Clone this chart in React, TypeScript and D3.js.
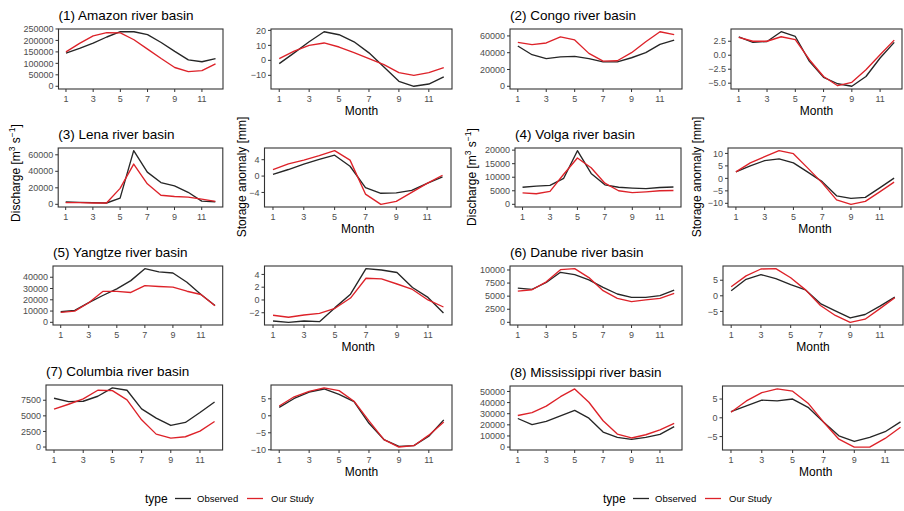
import React from "react";
import * as d3 from "d3";

const months = [1, 2, 3, 4, 5, 6, 7, 8, 9, 10, 11, 12];
const monthTicks = [1, 3, 5, 7, 9, 11];

const basinNames = [
  "(1) Amazon river basin",
  "(2) Congo river basin",
  "(3) Lena river basin",
  "(4) Volga river basin",
  "(5) Yangtze river basin",
  "(6) Danube river basin",
  "(7) Columbia river basin",
  "(8) Mississippi river basin",
];
const legendTitle = "type";
const legendLabels = ["Observed", "Our Study"];
const xAxisTitle = "Month";

// Discharge [m3 s-1]
const amazonQObs = [145000, 165000, 188000, 215000, 238000, 238000, 225000, 191000, 152000, 115000, 107000, 121000];
const amazonQSim = [150000, 187000, 220000, 234000, 233000, 203000, 162000, 121000, 82000, 64000, 68000, 98000];
const congoQObs = [48000, 37600, 33000, 35000, 35600, 33000, 29000, 29000, 34000, 40000, 50000, 55000];
const congoQSim = [52400, 49600, 51600, 58800, 55200, 39200, 30000, 30400, 40000, 53000, 65000, 61600];
const lenaQObs = [2800, 2400, 2000, 1600, 7500, 65000, 39000, 26400, 22400, 14600, 3900, 3100];
const lenaQSim = [2000, 2000, 1600, 1600, 19300, 48800, 24800, 11000, 9500, 8700, 6300, 3500];
const volgaQObs = [6300, 6700, 7000, 9600, 19800, 11400, 7200, 6300, 6000, 5800, 6200, 6400];
const volgaQSim = [4200, 3900, 4800, 11100, 17100, 13500, 7800, 5000, 4300, 4600, 5000, 5100];
const yangtzeQObs = [9400, 10600, 17400, 23800, 29700, 37000, 47600, 44700, 43800, 35600, 24700, 15000];
const yangtzeQSim = [8800, 10000, 17400, 27400, 27400, 26500, 32600, 31800, 31200, 27600, 24700, 14700];
const danubeQObs = [6540, 6290, 7610, 9560, 9120, 8110, 6670, 5410, 4780, 4780, 5100, 6160];
const danubeQSim = [5970, 6230, 7740, 10060, 10250, 8550, 6040, 4590, 3960, 4280, 4590, 5530];
const columbiaQObs = [7820, 7290, 7340, 8140, 9470, 9100, 6120, 4630, 3460, 3940, 5530, 7230];
const columbiaQSim = [6060, 6860, 7710, 9100, 9040, 7550, 4360, 2070, 1440, 1650, 2550, 4100];
const mississippiQObs = [25700, 20200, 23100, 28100, 33000, 26000, 13500, 8800, 7000, 8800, 11400, 18400];
const mississippiQSim = [28400, 31000, 36800, 45300, 52300, 40300, 23700, 11700, 8200, 11100, 15500, 21300];

// Storage anomaly [mm]
const amazonSObs = [-2.2, 5, 12.4, 19.1, 17.1, 12.4, 5, -4.4, -14, -17.3, -15.8, -11.1];
const amazonSSim = [1.1, 6.2, 10, 11.6, 8.9, 5.1, 1.1, -2.9, -8.2, -10, -8.2, -4.9];
const congoSObs = [3.3, 2.3, 2.45, 4.2, 3.35, -1.1, -3.95, -5.1, -5.55, -3.8, -0.5, 2.3];
const congoSSim = [3.2, 2.5, 2.5, 3.3, 2.8, -0.8, -3.8, -5.45, -4.85, -2.6, 0.1, 2.7];
const lenaSObs = [0.4, 1.6, 2.9, 4.1, 5.1, 2.4, -2.8, -4.2, -4.1, -3.5, -1.8, -0.2];
const lenaSSim = [1.6, 3.0, 3.9, 5.0, 6.2, 3.9, -4.4, -6.9, -6.2, -4.0, -1.8, 0.2];
const volgaSObs = [2.6, 5, 7.1, 7.8, 6.2, 2.5, -1.3, -7, -8, -7.6, -3.8, 0.1];
const volgaSSim = [2.6, 6.2, 8.7, 11.1, 9.9, 4.1, -1.8, -8.6, -10.4, -9.2, -5.4, -1.5];
const yangtzeSObs = [-3.3, -3.5, -3.3, -3.4, -1.2, 0.9, 4.9, 4.7, 4.3, 1.95, 0.4, -2.05];
const yangtzeSSim = [-2.4, -2.7, -2.35, -2.1, -1.3, 0.3, 3.4, 3.3, 2.5, 1.65, 0, -1.1];
const danubeSObs = [1.6, 5.3, 6.8, 5.5, 3.6, 1.9, -2.5, -4.8, -7.1, -6, -3.3, -0.4];
const danubeSSim = [2.9, 6.4, 8.6, 8.7, 5.8, 1.9, -3.1, -6.3, -8.5, -7.5, -4.1, -0.6];
const columbiaSObs = [2.5, 5.1, 7, 7.9, 6.3, 4.2, -2.2, -7, -9, -8.8, -6, -1.2];
const columbiaSSim = [2.9, 5.6, 7.2, 8.2, 7.4, 4.3, -1.5, -7, -9.2, -8.8, -5.7, -1.8];
const mississippiSObs = [1.65, 3.2, 4.7, 4.5, 5, 2.8, -1.1, -4.8, -6.3, -5.2, -3.7, -1.1];
const mississippiSSim = [1.5, 4.5, 6.7, 7.7, 7.1, 3.9, -1.1, -5.7, -7.8, -7.8, -5.5, -2.5];

// Tick values
const amazonQTicks = [0, 50000, 100000, 150000, 200000, 250000];
const congoQTicks = [0, 20000, 40000, 60000];
const lenaQTicks = [0, 20000, 40000, 60000];
const volgaQTicks = [0, 5000, 10000, 15000, 20000];
const yangtzeQTicks = [0, 10000, 20000, 30000, 40000];
const danubeQTicks = [0, 2500, 5000, 7500, 10000];
const columbiaQTicks = [0, 2500, 5000, 7500];
const mississippiQTicks = [0, 10000, 20000, 30000, 40000, 50000];
const amazonSTicks = [-10, 0, 10, 20];
const congoSTicks = [-5, -2.5, 0, 2.5];
const lenaSTicks = [-4, 0, 4];
const volgaSTicks = [-10, -5, 0, 5, 10];
const yangtzeSTicks = [-2, 0, 2, 4];
const danubeSTicks = [-5, 0, 5];
const columbiaSTicks = [-10, -5, 0, 5];
const mississippiSTicks = [-5, 0, 5];

const basins = [
  { qObs: amazonQObs, qSim: amazonQSim, sObs: amazonSObs, sSim: amazonSSim, qTicks: amazonQTicks, sTicks: amazonSTicks, sFmt: "d" },
  { qObs: congoQObs, qSim: congoQSim, sObs: congoSObs, sSim: congoSSim, qTicks: congoQTicks, sTicks: congoSTicks, sFmt: ".1f" },
  { qObs: lenaQObs, qSim: lenaQSim, sObs: lenaSObs, sSim: lenaSSim, qTicks: lenaQTicks, sTicks: lenaSTicks, sFmt: "d" },
  { qObs: volgaQObs, qSim: volgaQSim, sObs: volgaSObs, sSim: volgaSSim, qTicks: volgaQTicks, sTicks: volgaSTicks, sFmt: "d" },
  { qObs: yangtzeQObs, qSim: yangtzeQSim, sObs: yangtzeSObs, sSim: yangtzeSSim, qTicks: yangtzeQTicks, sTicks: yangtzeSTicks, sFmt: "d" },
  { qObs: danubeQObs, qSim: danubeQSim, sObs: danubeSObs, sSim: danubeSSim, qTicks: danubeQTicks, sTicks: danubeSTicks, sFmt: "d" },
  { qObs: columbiaQObs, qSim: columbiaQSim, sObs: columbiaSObs, sSim: columbiaSSim, qTicks: columbiaQTicks, sTicks: columbiaSTicks, sFmt: "d" },
  { qObs: mississippiQObs, qSim: mississippiQSim, sObs: mississippiSObs, sSim: mississippiSSim, qTicks: mississippiQTicks, sTicks: mississippiSTicks, sFmt: "d" },
];

// Layout (pixel boxes)
const rowBoxes = [
  { top: 29, bottom: 89 },
  { top: 148, bottom: 207 },
  { top: 266, bottom: 325 },
  { top: 385, bottom: 450 },
];
const dischargeX = [
  [[58.5, 223], [510, 682]],
  [[58.2, 222.8], [515, 681]],
  [[53, 222.7], [510, 682]],
  [[46, 222.6], [510, 682]],
];
const storageX = [
  [[271, 452], [731, 902]],
  [[264.5, 451], [728, 902]],
  [[264.5, 452], [723, 903]],
  [[271, 452], [722.5, 909]],
];

const OBS_COLOR = "#262626";
const SIM_COLOR = "#dd2229";
const FONT = "'Liberation Sans', Arial, Helvetica, sans-serif";

type PanelProps = {
  x0: number; x1: number; y0: number; y1: number;
  obs: number[]; sim: number[]; ticks: number[]; fmt: string;
  includeZero: boolean; showMonth: boolean;
};

function Panel({ x0, x1, y0, y1, obs, sim, ticks, fmt, includeZero, showMonth }: PanelProps) {
  let lo = d3.min([...obs, ...sim]) as number;
  const hi = d3.max([...obs, ...sim]) as number;
  if (includeZero) lo = Math.min(0, lo);
  const pad = (hi - lo) * 0.05;
  const y = d3.scaleLinear().domain([lo - pad, hi + pad]).range([y1, y0]);
  const x = d3.scaleLinear().domain([0.45, 12.55]).range([x0, x1]);
  const line = d3.line<number>().x((_, i) => x(months[i])).y((d) => y(d));
  const f = d3.format(fmt);
  return (
    <g>
      <path d={line(obs) || ""} fill="none" stroke={OBS_COLOR} strokeWidth={1.35} strokeLinejoin="round" />
      <path d={line(sim) || ""} fill="none" stroke={SIM_COLOR} strokeWidth={1.35} strokeLinejoin="round" />
      <rect x={x0} y={y0} width={x1 - x0} height={y1 - y0} fill="none" stroke="#333333" strokeWidth={1.1} />
      {ticks.map((t) => (
        <g key={"y" + t}>
          <line x1={x0 - 3} x2={x0} y1={y(t)} y2={y(t)} stroke="#333333" strokeWidth={1} />
          <text x={x0 - 5} y={y(t)} dy="0.35em" textAnchor="end" fontSize={9} fill="#4d4d4d">{f(t)}</text>
        </g>
      ))}
      {monthTicks.map((m) => (
        <g key={"x" + m}>
          <line x1={x(m)} x2={x(m)} y1={y1} y2={y1 + 3} stroke="#333333" strokeWidth={1} />
          <text x={x(m)} y={y1 + 13} textAnchor="middle" fontSize={9} fill="#4d4d4d">{m}</text>
        </g>
      ))}
      {showMonth && (
        <text x={(x0 + x1) / 2} y={y1 + 26} textAnchor="middle" fontSize={12} fill="#000">{xAxisTitle}</text>
      )}
    </g>
  );
}

function Legend({ x }: { x: number }) {
  const cy = 498.5;
  return (
    <g>
      <text x={x} y={cy + 4} fontSize={12} fill="#000">{legendTitle}</text>
      <line x1={x + 30} x2={x + 46} y1={cy} y2={cy} stroke={OBS_COLOR} strokeWidth={1.3} />
      <text x={x + 52} y={cy + 3.3} fontSize={9.5} fill="#000">{legendLabels[0]}</text>
      <line x1={x + 102} x2={x + 118} y1={cy} y2={cy} stroke={SIM_COLOR} strokeWidth={1.3} />
      <text x={x + 126} y={cy + 3.3} fontSize={9.5} fill="#000">{legendLabels[1]}</text>
    </g>
  );
}

export default function App() {
  return (
    <div style={{ position: "absolute", left: 0, top: 0 }}>
      <svg width={904} height={511} style={{ display: "block", background: "#fff", fontFamily: FONT }}>
        {basins.map((b, i) => {
          const row = Math.floor(i / 2);
          const col = i % 2;
          const top = row === 3 && col === 1 ? 386 : rowBoxes[row].top;
          const bottom = rowBoxes[row].bottom;
          const [dx0, dx1] = dischargeX[row][col];
          const [sx0, sx1] = storageX[row][col];
          return (
            <g key={i}>
              <text x={dx0} y={top - 9.5} fontSize={13.5} fill="#000">{basinNames[i]}</text>
              <Panel x0={dx0} x1={dx1} y0={top} y1={bottom} obs={b.qObs} sim={b.qSim} ticks={b.qTicks} fmt="d" includeZero={true} showMonth={false} />
              <Panel x0={sx0} x1={sx1} y0={top} y1={bottom} obs={b.sObs} sim={b.sSim} ticks={b.sTicks} fmt={b.sFmt} includeZero={false} showMonth={true} />
            </g>
          );
        })}
        {/* y axis titles (row 2) */}
        <text transform="translate(19.5,173) rotate(-90)" textAnchor="middle" fontSize={12} fill="#000">
          Discharge [m<tspan fontSize={8.5} dy={-5}>3</tspan><tspan dy={5}> s</tspan><tspan fontSize={8.5} dy={-5}>−1</tspan><tspan dy={5}>]</tspan>
        </text>
        <text transform="translate(246,177) rotate(-90)" textAnchor="middle" fontSize={12} fill="#000">Storage anomaly [mm]</text>
        <text transform="translate(476,177) rotate(-90)" textAnchor="middle" fontSize={12} fill="#000">
          Discharge [m<tspan fontSize={8.5} dy={-5}>3</tspan><tspan dy={5}> s</tspan><tspan fontSize={8.5} dy={-5}>−1</tspan><tspan dy={5}>]</tspan>
        </text>
        <text transform="translate(701,177) rotate(-90)" textAnchor="middle" fontSize={12} fill="#000">Storage anomaly [mm]</text>
        <Legend x={145} />
        <Legend x={603} />
      </svg>
    </div>
  );
}
